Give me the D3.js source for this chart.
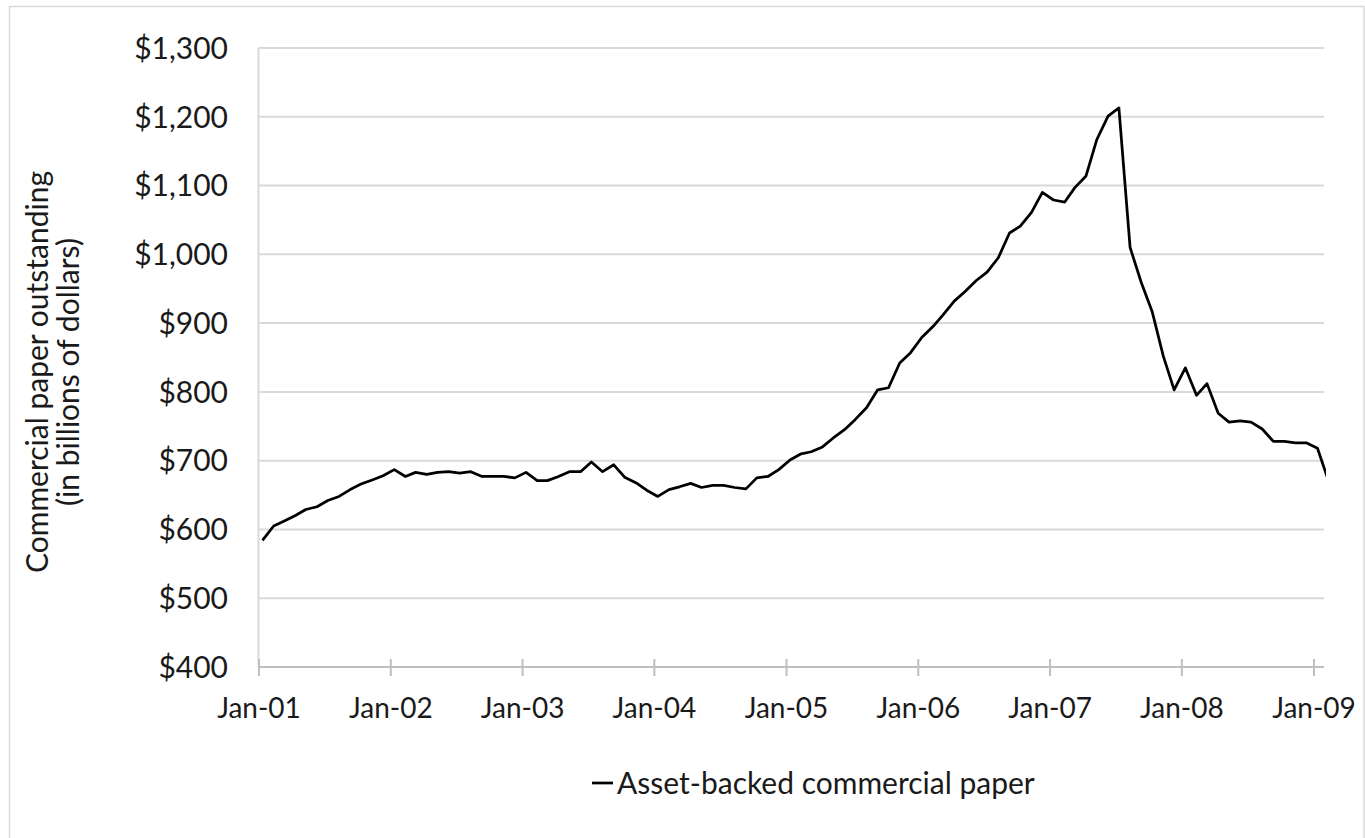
<!DOCTYPE html>
<html>
<head>
<meta charset="utf-8">
<script src="https://cdn.jsdelivr.net/npm/d3@7"></script>
<style>
  html, body { margin: 0; padding: 0; background: #fff; }
  svg { display: block; }
  text { font-family: Lato, "Open Sans", sans-serif; fill: #1a1a1a; }
</style>
</head>
<body>
<svg id="chart" width="1365" height="838"></svg>
<script>
// ---- Data (billions of dollars, monthly, from Jan 2001) ----
const startMonth = "2001-01";
const abcpValues = [
  584, 605, 612, 620, 629, 633, 642, 648, 658, 666, 672, 678,      // 2001
  687, 677, 683, 680, 683, 684, 682, 684, 677, 677, 677, 675,      // 2002
  683, 671, 671, 677, 684, 684, 698, 684, 694, 676, 668, 657,      // 2003
  648, 658, 662, 667, 661, 664, 664, 661, 659, 675, 677, 687,      // 2004
  701, 710, 713, 720, 733, 745, 760, 777, 803, 806, 842, 857,      // 2005
  879, 895, 912, 932, 946, 962, 974, 995, 1031, 1041, 1061, 1090,  // 2006
  1079, 1076, 1097, 1114, 1167, 1201, 1213, 1010, 959, 917, 852, 803, // 2007
  835, 795, 812, 769, 756, 758, 756, 746, 728, 728, 726, 726,      // 2008
  718, 670                                                          // 2009
];
const observationDay = 12;
const seriesName = "Asset-backed commercial paper";
const yTicks = [400, 500, 600, 700, 800, 900, 1000, 1100, 1200, 1300];
const xTickYears = ["2001","2002","2003","2004","2005","2006","2007","2008","2009"];
const yTitleLines = ["Commercial paper outstanding", "(in billions of dollars)"];

// ---- Build series ----
const parseMonth = d3.timeParse("%Y-%m");
const m0 = parseMonth(startMonth);
const data = abcpValues.map((v, i) => {
  const m = d3.timeMonth.offset(m0, i);
  return { date: new Date(m.getFullYear(), m.getMonth(), observationDay), value: v };
});
const xTickDates = xTickYears.map(y => new Date(+y, 0, 1));

// ---- Layout ----
const svg = d3.select("#chart");
const plot = { left: 258.5, right: 1324, top: 48, bottom: 667 };

const x = d3.scaleTime()
  .domain([new Date(2001, 0, 1), new Date(2009, 0, 1)])
  .range([plot.left, 1313.5]);
const y = d3.scaleLinear().domain([400, 1300]).range([plot.bottom, plot.top]);

// chart border
svg.append("rect")
  .attr("x", 9.5).attr("y", 6.5).attr("width", 1354.5).attr("height", 840)
  .attr("fill", "none").attr("stroke", "#d9d9d9").attr("stroke-width", 1.5);

// gridlines
svg.append("g").selectAll("line").data(yTicks.filter(t => t > 400)).join("line")
  .attr("x1", plot.left).attr("x2", plot.right)
  .attr("y1", d => y(d)).attr("y2", d => y(d))
  .attr("stroke", "#d9d9d9").attr("stroke-width", 2);

// vertical axis line
svg.append("line")
  .attr("x1", plot.left).attr("x2", plot.left)
  .attr("y1", plot.top).attr("y2", plot.bottom)
  .attr("stroke", "#d9d9d9").attr("stroke-width", 2);

// y tick labels
svg.append("g").selectAll("text").data(yTicks).join("text")
  .attr("x", 228).attr("y", d => y(d))
  .attr("dy", "0.36em")
  .attr("text-anchor", "end")
  .style("font-size", "30px")
  .text(d => d3.format("$,")(d));

// x axis
const xAxis = d3.axisBottom(x)
  .tickValues(xTickDates)
  .tickSize(0)
  .tickFormat(d3.timeFormat("%b-%y"));
const gx = svg.append("g").attr("transform", `translate(0,${plot.bottom})`).call(xAxis);
gx.select(".domain").remove();
gx.append("line").attr("x1", plot.left).attr("x2", plot.right).attr("y1", 0).attr("y2", 0)
  .attr("stroke", "#bfbfbf").attr("stroke-width", 2);
gx.selectAll(".tick").append("line")
  .attr("y1", -8).attr("y2", 9).attr("stroke", "#bfbfbf").attr("stroke-width", 2);
gx.selectAll(".tick text")
  .attr("y", 51).attr("dy", 0)
  .style("font-size", "28px")
  .style("font-family", "Lato, 'Open Sans', sans-serif")
  .attr("fill", "#1a1a1a");

// line, clipped to plot area
svg.append("clipPath").attr("id", "clip").append("rect")
  .attr("x", plot.left).attr("y", 0).attr("width", plot.right + 2 - plot.left).attr("height", 838);
const line = d3.line().x(d => x(d.date)).y(d => y(d.value));
svg.append("path").datum(data)
  .attr("clip-path", "url(#clip)")
  .attr("d", line)
  .attr("fill", "none").attr("stroke", "#000").attr("stroke-width", 2.75)
  .attr("stroke-linejoin", "round");

// y-axis title
const yt = svg.append("text")
  .attr("transform", "translate(48,372) rotate(-90)")
  .attr("text-anchor", "middle")
  .style("font-size", "30px");
yt.append("tspan").attr("x", 0).attr("dy", 0).text(yTitleLines[0]);
yt.append("tspan").attr("x", 0).attr("dy", 31).text(yTitleLines[1]);

// legend
const lg = svg.append("g");
lg.append("line").attr("x1", 592).attr("x2", 613).attr("y1", 783).attr("y2", 783)
  .attr("stroke", "#000").attr("stroke-width", 2.75);
lg.append("text").attr("x", 617).attr("y", 794).style("font-size", "30px").text(seriesName);
</script>
</body>
</html>
